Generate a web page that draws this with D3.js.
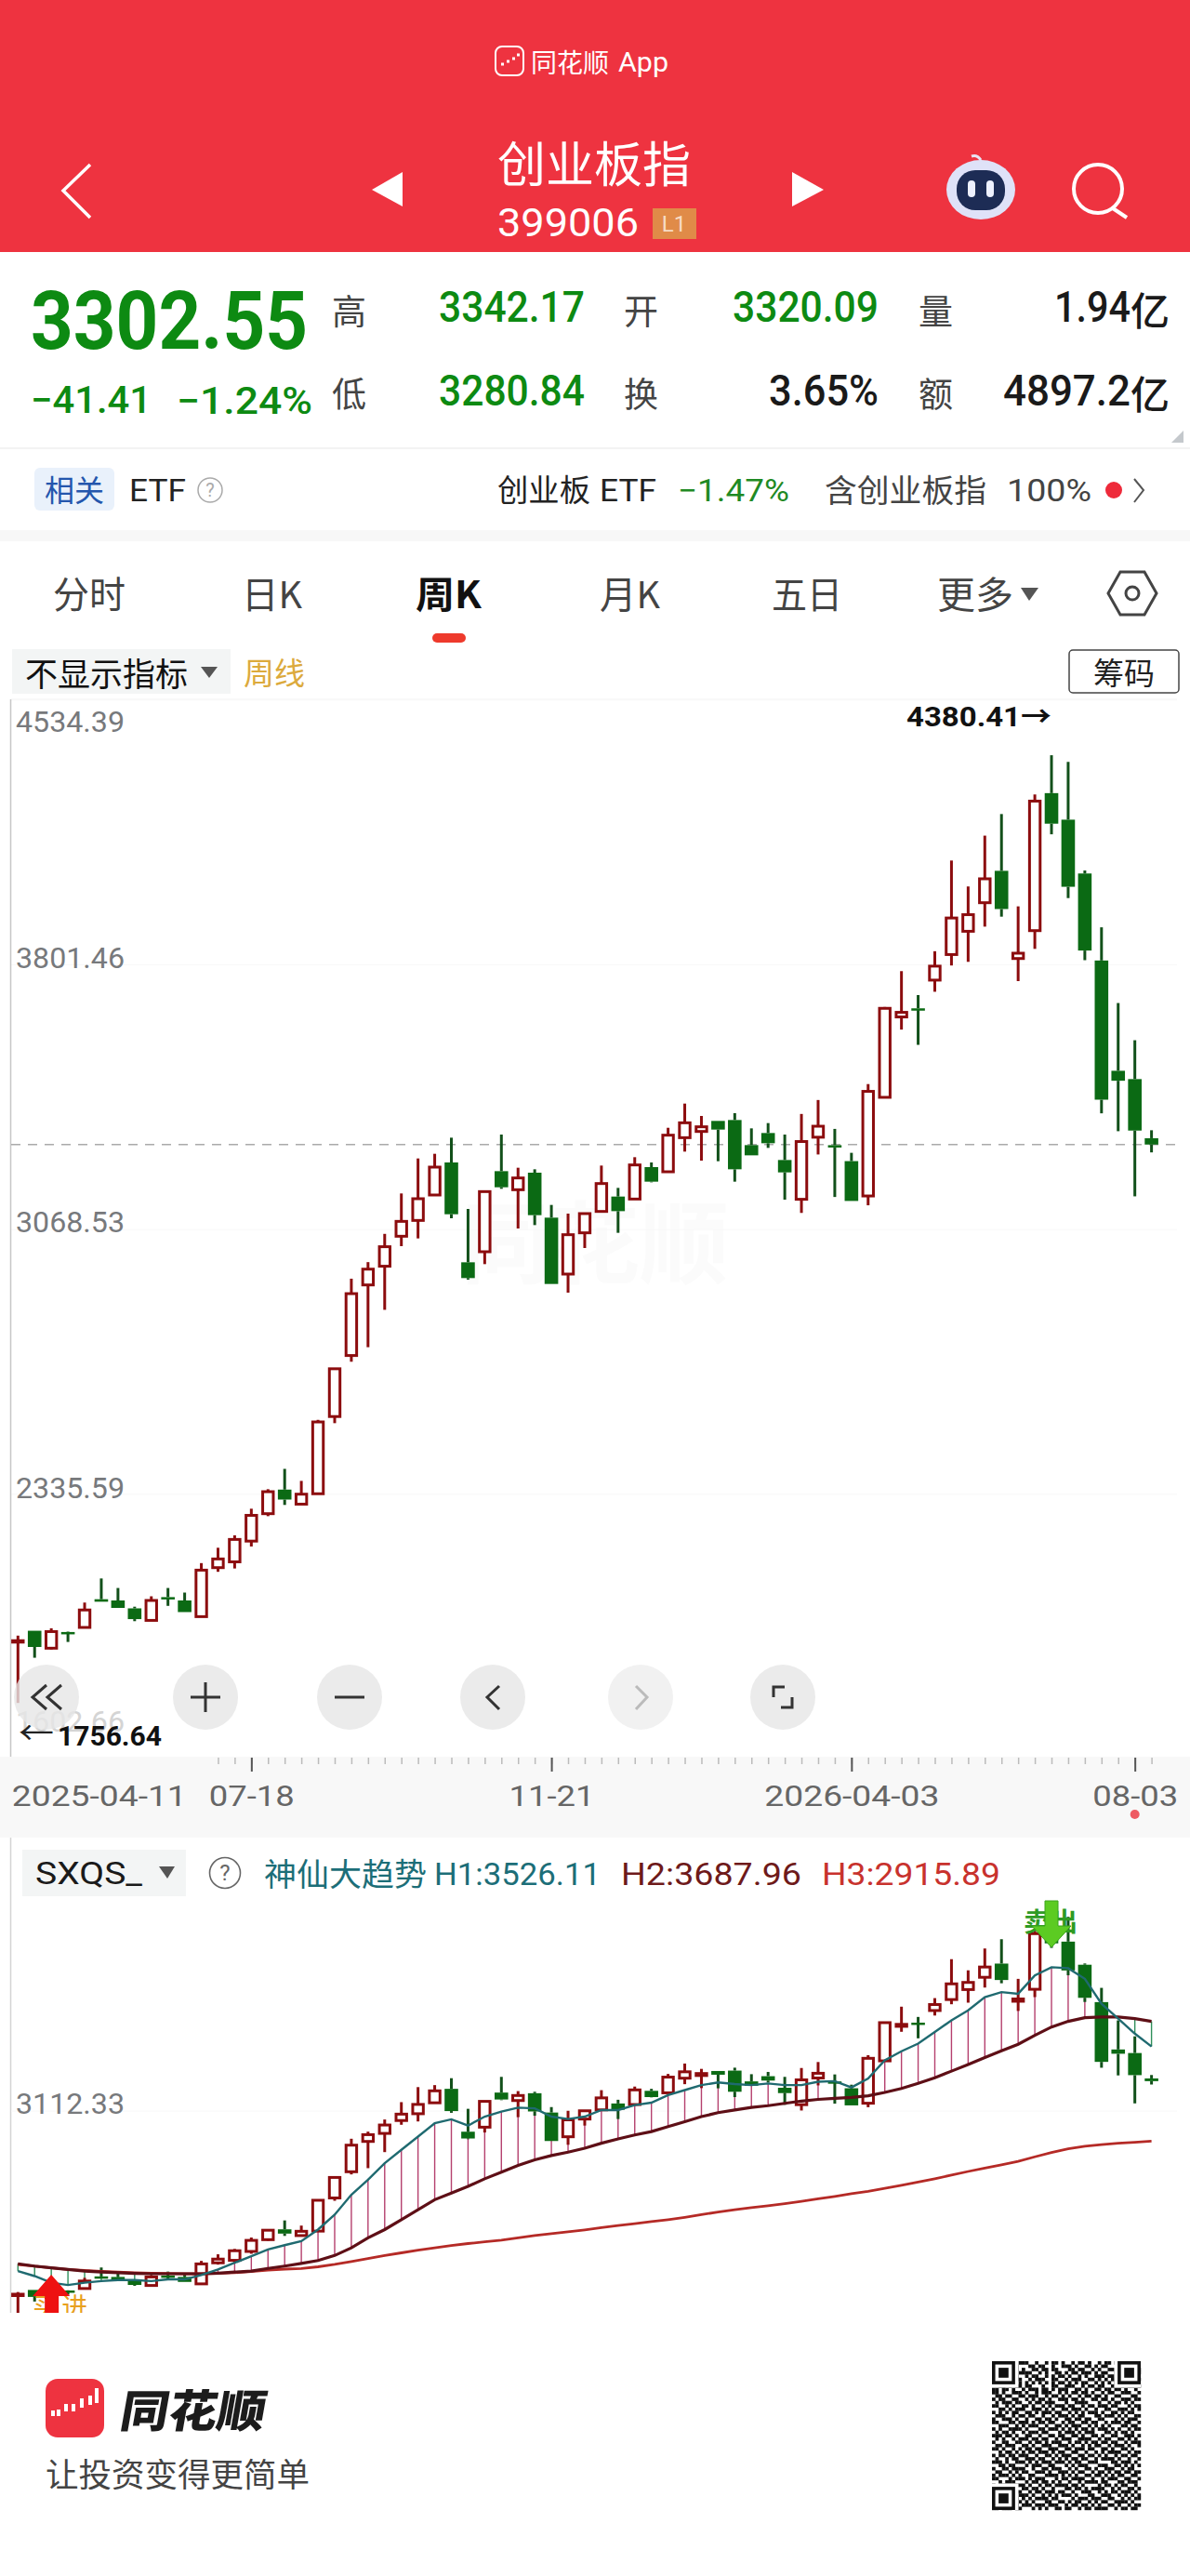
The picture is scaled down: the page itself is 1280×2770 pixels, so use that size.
<!DOCTYPE html>
<html>
<head>
<meta charset="utf-8">
<script src="https://cdnjs.cloudflare.com/ajax/libs/d3/7.8.5/d3.min.js"></script>
<style>
	html, body { margin: 0; padding: 0; background: #fff; }
	svg { display: block; }
	text { font-family: Roboto, "Noto Sans CJK SC", sans-serif; dominant-baseline: central; }
	.cn { font-family: "Noto Sans CJK SC", sans-serif; }
</style>
</head>
<body>
<svg id="page" width="1280" height="2770"></svg>
<script>
// weekly candles
var opens = [1925,1956.5,1908.2,1953,1965.7,2043.8,2040.4,2018.5,1985.2,2049.6,2040.4,1995.6,2131.2,2147.3,2204.7,2280.6,2347.3,2307,2335.8,2549.6,2718.5,2913.9,2965.7,3048.7,3092.5,3162.9,3253,2976.6,3005.8,3228.9,3177.5,3224.7,3100.2,2944,3058.2,3117.4,3158.6,3151.7,3240.1,3227.2,3321.6,3338.8,3368,3370.5,3301,3334.5,3259.8,3151,3322.9,3300.8,3256.7,3160.2,3433.3,3655.8,3679.7,3757.8,3828.6,3893,3972.1,4060.4,3817.6,3894.8,4275.5,4202,4053,3812.1,3506.8,3483.8,3320.09];
var highs = [1943,1956.5,1963.4,1954.2,2034.6,2101.3,2074.9,2023.1,2051.9,2074.9,2062.2,2143.8,2186.3,2220.8,2294.4,2348.4,2404.7,2371.4,2540.4,2681.8,2931.2,2977.1,3055.3,3167.2,3264.1,3277,3321.6,3124.2,3172.3,3330.2,3238.4,3234.1,3135.4,3111.4,3113.1,3244.4,3182.6,3267.6,3253,3349,3416,3381.7,3368,3389.4,3347.4,3362,3330.2,3387.3,3425.9,3345.9,3279.7,3470,3683.4,3782.7,3716.5,3837.8,4088.9,4017.1,4157.8,4217.6,3962,4271.8,4380.41,4362,4061.3,3904,3694.4,3591.4,3342.17];
var lows = [1756.64,1881.8,1904.8,1925.5,1965.7,2036.9,2019.7,1983,1985.2,2025.4,2008.2,1995.6,2119.7,2128.9,2189.8,2273.7,2304.8,2307,2335.8,2531.2,2701.3,2741.5,2845,3021.3,3042.7,3162.9,3098.5,2928.6,2971.5,3180,3070.2,3079.6,2916.6,2892.5,3016.1,3117.4,3058.2,3151.7,3198,3227.2,3283,3258,3256.4,3199.8,3272.7,3293.3,3150,3113.3,3275.1,3157.4,3146.4,3134.4,3433.3,3620.8,3578.6,3725.6,3798.3,3808.4,3905.9,3933.5,3755.1,3844.3,4161.5,3984.9,3813,3389,3339.5,3159.2,3280.84];
var closes = [1929,1911.6,1954.2,1948.5,2014,2036.9,2019.7,1988.7,2040.4,2045,2008.2,2124.3,2155.3,2209.3,2276,2341.5,2319.7,2334.6,2534.6,2681.8,2889.8,2957.6,3019.7,3089.9,3152.6,3240.1,3109.6,2932.9,3172.3,3184.3,3210.1,3107.1,2916.6,3053,3111.4,3194.6,3118.2,3246.1,3199.8,3328.5,3362.8,3351.7,3344,3234.1,3272.7,3306.2,3225.5,3310.9,3353.3,3294.4,3146.4,3449.8,3679.7,3668.6,3675.1,3796.5,3929.8,3939,4038.3,3954.6,3832.3,4253.4,4190.9,4016.2,3839.7,3426.8,3479.2,3341.3,3302.55];

// 神仙大趋势 lines
var h1Values = [2078,2045.8,2003,1988,2003,2013.7,2020.1,2020.1,2013.7,2024.4,2024.4,2052.2,2088.6,2131.4,2174.3,2217.1,2245,2270.7,2345.6,2442,2570.5,2666.8,2773.8,2859.5,2945.2,3030.9,3056.5,3015.9,3073.7,3105.8,3131.5,3127.2,3073.7,3058.6,3073.7,3116.4,3116.4,3148.6,3163.6,3212.8,3245,3277.1,3294.2,3283.5,3277.1,3287.8,3277.1,3277.1,3298.5,3302.8,3262,3319.9,3437.6,3495.4,3544.7,3619.6,3694.6,3758.8,3844.5,3876.6,3865.9,3983.6,4037.1,4030.8,3962.2,3801.6,3705.3,3608.9,3526.11];
var h2Values = [2125.1,2110.1,2099.4,2088.6,2078,2071.5,2067.2,2062.9,2060.8,2060.8,2060.8,2060.8,2065,2071.5,2078,2095.1,2110.1,2127.2,2146.5,2178.6,2227.9,2292.1,2345.6,2409.8,2474.1,2538.3,2581.2,2624,2673.2,2716.1,2758.9,2795.3,2823.1,2844.5,2870.2,2902.4,2930.2,2955.9,2977.3,3009.4,3041.5,3073.7,3099.3,3116.4,3133.6,3144.3,3159.3,3174.2,3185,3191.4,3197.8,3208.5,3229.9,3255.6,3287.8,3324.2,3367,3409.8,3454.8,3497.6,3540.4,3598.2,3651.7,3688,3711.7,3716,3716,3705.3,3687.96];
var h3Values = [2120.8,2110.1,2099.4,2088.6,2082.2,2075.8,2071.5,2067.2,2065,2062.9,2060.8,2060.8,2062.9,2067.2,2075.8,2084.4,2090.8,2095.1,2105.8,2120.8,2140,2159.3,2178.6,2195.7,2212.9,2227.9,2242.9,2255.7,2266.4,2277.1,2292.1,2307.1,2320,2330.7,2343.5,2358.5,2371.3,2384.2,2397,2409.8,2424.8,2442,2459.1,2474.1,2486.9,2499.8,2512.6,2527.6,2544.8,2559.8,2576.9,2591.9,2611.2,2630.4,2651.8,2673.2,2696.8,2720.3,2741.7,2763.2,2786,2814.6,2842.3,2866,2883,2893.8,2902.4,2908.8,2915.89];

// axes
var priceTicks = [4534.39,3801.46,3068.53,2335.59,1602.66];
var priceTickLabels = ["4534.39","3801.46","3068.53","2335.59","1602.66"];
var lastClose = 3302.55;
var subTicks = [3112.33];
var dateTickIndex = [0,14,32,50,67];
var dateTickLabels = ["2025-04-11","07-18","11-21","2026-04-03","08-03"];
var buyIndex = 2, sellIndex = 62;

// quote table
var tabs = ["分时","日K","周K","月K","五日","更多"];

// qr body (finder squares are drawn over it)
var qrRows = [
"101101001110010010110100101101001011010110100",
"010110110001101100100111010011010110001010110",
"110011010100110110110001101100101001101101001",
"011001101111001010011010110111010110010100111",
"101110010010110010101101001010011101101011010",
"010101111001011100110010111001101010110001101",
"101010101010101010101101010110010101011110010",
"001101011011000100110011100101101100100101101",
"110110100101110110101110011010011011011010010",
"110100111010010111001010110110100101100111001",
"011011001101110010110101001011011010011000110",
"101100110010101101001110110100110110100111011",
"010111011001011011100010011110001001011010100",
"110010100110100101011101100101101110110001011",
"001101011100111010100110111010010011001110101",
"101010110011010111011001010101110100110101100",
"011100101101100100101110101100011011101010011",
"100111010010011011010011011011001100010101110",
"110001101110101101100101100110110010111011001",
"001110010101110010011010111001010101000110110",
"101001111010001101110101010110101110101001011",
"010110100101110110001011101011100011010110100",
"111011010011001001101100110100110100110011101",
"010100101110110110010111001111001011001101010",
"100110011001011010111001011010110110110010111",
"011011100110100111001110100101011001011101001",
"110100101011011001110011011101100110100110100",
"001011010101101110101100110010010101111001011",
"101101101110010011010111001101101010010110110",
"010010110011101100101010110110010111101001001",
"111010011101010111011101011001110000110111010",
"001101100010111001100010101110001110011010101",
"100110111100100110111001010011010011100101100",
"011001010110011101001110101100101101011011011",
"101110101001100011110101010011011010101100110",
"110001011101011100010110111100100101110011001",
"001011100010110110101001001011110110001101110",
"101100011101001011011110110100001011010110010",
"010111100110110100100011011010111100101001101",
"110010011001011011101100100111001010110111010",
"011101101110100101010111010001100111001010101",
"100010110101011110110000101110111001100101011",
"111101001010100011001101011001010110011110100",
"001010110111011101110010110110101001101001011",
"110111011000101010011011001011011110010110110"
];

var svg = d3.select("#page");
var RED_C = "#8c0c0e", GREEN_C = "#0b6a14", WICK_G = "#12501a", GREEN_T = "#0d8a12";

// text helper, len squeezes the string to the width it has in the picture
function txt(g, s, x, y, size, fill, o) {
	o = o || {};
	var t = g.append("text").attr("x", x).attr("y", y).attr("font-size", size).attr("fill", fill).text(s);
	if (o.anchor) t.attr("text-anchor", o.anchor);
	if (o.weight) t.attr("font-weight", o.weight);
	if (o.cn) t.attr("class", "cn");
	if (o.len) t.attr("textLength", o.len).attr("lengthAdjust", "spacingAndGlyphs");
	if (o.opacity) t.attr("opacity", o.opacity);
	return t;
}

// ---- header
var head = svg.append("g");
head.append("rect").attr("width", 1280).attr("height", 271).attr("fill", "#ee3340");
head.append("rect").attr("x", 533).attr("y", 50).attr("width", 30).attr("height", 31).attr("rx", 7)
	.attr("fill", "none").attr("stroke", "#fff").attr("stroke-width", 2);
head.append("path").attr("d", "M539 69h3M545 66h3M551 63h3M556 59h3").attr("stroke", "#fff").attr("stroke-width", 3);
txt(head, "同花顺", 571, 66, 28, "#fff", {cn: 1, len: 84});
txt(head, "App", 665, 67, 29, "#fff", {len: 54});
txt(head, "创业板指", 535, 173, 52, "#fff", {cn: 1, len: 208});
txt(head, "399006", 535, 239, 42, "#fff", {len: 152});
head.append("rect").attr("x", 702).attr("y", 224).attr("width", 47).attr("height", 33).attr("fill", "#e08b48");
txt(head, "L1", 725, 241, 24, "#f7dcc4", {anchor: "middle"});
head.append("path").attr("d", "M97 177L68 205L97 234").attr("fill", "none").attr("stroke", "#fff").attr("stroke-width", 3.5);
head.append("path").attr("d", "M433 185L400 204L433 222Z").attr("fill", "#fff");
head.append("path").attr("d", "M852 185L886 204L852 222Z").attr("fill", "#fff");
// robot
head.append("path").attr("d", "M1055 172q-4 -6 -10 -4").attr("fill", "none").attr("stroke", "#e8e4f4").attr("stroke-width", 3);
head.append("ellipse").attr("cx", 1055).attr("cy", 204).attr("rx", 37).attr("ry", 32).attr("fill", "#dfe2f8");
head.append("rect").attr("x", 1029).attr("y", 183).attr("width", 52).attr("height", 43).attr("rx", 20).attr("fill", "#1d2c55");
head.append("rect").attr("x", 1041).attr("y", 194).attr("width", 8).attr("height", 18).attr("rx", 4).attr("fill", "#eef1ff");
head.append("rect").attr("x", 1061).attr("y", 194).attr("width", 8).attr("height", 18).attr("rx", 4).attr("fill", "#eef1ff");
// search
head.append("circle").attr("cx", 1181).attr("cy", 203).attr("r", 26).attr("fill", "none").attr("stroke", "#fff").attr("stroke-width", 4);
head.append("path").attr("d", "M1197 224L1212 234").attr("stroke", "#fff").attr("stroke-width", 4);

// ---- quote block
var q = svg.append("g");
txt(q, "3302.55", 33, 344, 88, GREEN_T, {weight: 700, len: 298});
txt(q, "−41.41", 33, 430, 40, GREEN_T, {weight: 500, len: 130});
txt(q, "−1.24%", 190, 431, 40, GREEN_T, {weight: 500, len: 146});
[["高",357,333],["低",357,422],["开",671,333],["换",671,422],["量",988,333],["额",988,422]].forEach(function(d) {
	txt(q, d[0], d[1], d[2], 37, "#444", {cn: 1});
});
txt(q, "3342.17", 472, 330, 46, GREEN_T, {weight: 500, len: 157});
txt(q, "3280.84", 472, 420, 46, GREEN_T, {weight: 500, len: 157});
txt(q, "3320.09", 788, 330, 46, GREEN_T, {weight: 500, len: 157});
txt(q, "3.65%", 945, 420, 46, "#1a1a1a", {weight: 500, anchor: "end", len: 118});
txt(q, "1.94", 1134, 330, 46, "#1a1a1a", {weight: 500, len: 82});
txt(q, "亿", 1216, 331, 42, "#1a1a1a", {cn: 1, weight: 500});
txt(q, "4897.2", 1079, 420, 46, "#1a1a1a", {weight: 500, len: 137});
txt(q, "亿", 1216, 421, 42, "#1a1a1a", {cn: 1, weight: 500});
q.append("path").attr("d", "M1273 463V476H1260Z").attr("fill", "#c4c8cc");
q.append("rect").attr("y", 481).attr("width", 1280).attr("height", 2).attr("fill", "#f3f3f3");

// ETF row
q.append("rect").attr("x", 37).attr("y", 503).attr("width", 86).attr("height", 46).attr("rx", 6).attr("fill", "#e9f1fb");
txt(q, "相关", 48, 525, 32, "#2456ad", {cn: 1});
txt(q, "ETF", 139, 527, 33, "#222", {len: 61});
q.append("circle").attr("cx", 226).attr("cy", 527).attr("r", 13).attr("fill", "none").attr("stroke", "#aaa").attr("stroke-width", 1.5);
txt(q, "?", 226, 527, 20, "#aaa", {anchor: "middle"});
txt(q, "创业板", 535, 525, 33, "#222", {cn: 1, len: 100});
txt(q, "ETF", 645, 527, 33, "#222", {len: 61});
txt(q, "−1.47%", 729, 527, 33, "#1f8a24", {len: 120});
txt(q, "含创业板指", 887, 525, 34, "#444", {cn: 1, len: 174});
txt(q, "100%", 1083, 527, 33, "#444", {len: 91});
q.append("circle").attr("cx", 1198).attr("cy", 527).attr("r", 9).attr("fill", "#ee2a3a");
q.append("path").attr("d", "M1220 515L1230 527L1220 540").attr("fill", "none").attr("stroke", "#555").attr("stroke-width", 2);
q.append("rect").attr("y", 570).attr("width", 1280).attr("height", 12).attr("fill", "#f7f7f7");

// ---- tabs
var tabX = [57,260,447,645,830,1008], tabLen = [78,65,71,65,76,82];
tabs.forEach(function(s, i) {
	txt(q, s, tabX[i], 637, 40, i == 2 ? "#111" : "#444", {cn: 1, weight: i == 2 ? 700 : 400, len: tabLen[i]});
});
q.append("path").attr("d", "M1098 632H1117L1107 646Z").attr("fill", "#555");
q.append("path").attr("d", "M1205 615H1231L1244 638L1231 661H1205L1192 638Z").attr("fill", "none").attr("stroke", "#444").attr("stroke-width", 3);
q.append("circle").attr("cx", 1218).attr("cy", 638).attr("r", 7).attr("fill", "none").attr("stroke", "#444").attr("stroke-width", 3);
q.append("rect").attr("x", 465).attr("y", 681).attr("width", 36).attr("height", 10).attr("rx", 5).attr("fill", "#ee3a2c");

// indicator row
q.append("rect").attr("x", 13).attr("y", 698).attr("width", 235).attr("height", 48).attr("fill", "#f3f5f5");
txt(q, "不显示指标", 27, 722, 35, "#111", {cn: 1, len: 175});
q.append("path").attr("d", "M216 717H234L225 729Z").attr("fill", "#555");
txt(q, "周线", 262, 722, 33, "#dcaa3c", {cn: 1});
q.append("rect").attr("x", 1150).attr("y", 699).attr("width", 118).attr("height", 46).attr("rx", 4).attr("fill", "#fff").attr("stroke", "#444").attr("stroke-width", 1.5);
txt(q, "筹码", 1209, 722, 33, "#222", {cn: 1, anchor: "middle"});

// ---- scales
var xScale = d3.scaleLinear().domain([0, 68]).range([19.3, 1238.6]);
var yMain = d3.scaleLinear().domain([1602.66, 4534.39]).range([1891, 752.3]);
var ySub = d3.scaleLinear().domain([1803, 4872.6]).range([2488, 1976]);
var idx = d3.range(opens.length);

function drawCandles(g, y) {
	idx.forEach(function(i) {
		var up = closes[i] >= opens[i];
		var x = xScale(i);
		var top = y(Math.max(opens[i], closes[i])), bot = y(Math.min(opens[i], closes[i]));
		g.append("line").attr("x1", x).attr("x2", x).attr("y1", y(highs[i])).attr("y2", top)
			.attr("stroke", up ? RED_C : WICK_G).attr("stroke-width", 3);
		g.append("line").attr("x1", x).attr("x2", x).attr("y1", bot).attr("y2", y(lows[i]))
			.attr("stroke", up ? RED_C : WICK_G).attr("stroke-width", 3);
		if (up) {
			g.append("rect").attr("x", x - 5.7).attr("y", top).attr("width", 11.4).attr("height", Math.max(bot - top, 1.5))
				.attr("fill", "#fff").attr("stroke", RED_C).attr("stroke-width", 3);
		} else {
			g.append("rect").attr("x", x - 7.3).attr("y", top).attr("width", 14.6).attr("height", Math.max(bot - top, 2.5))
				.attr("fill", GREEN_C);
		}
	});
}

// ---- main panel
var main = svg.append("g");
main.append("line").attr("x1", 12).attr("x2", 1266).attr("y1", 752).attr("y2", 752).attr("stroke", "#f2f2f2");
txt(main, "同花顺", 640, 1330, 96, "#fbfbfb", {cn: 1, anchor: "middle", weight: 700});

// grid + price labels through an axis
var priceAxis = d3.axisRight(yMain).tickValues(priceTicks).tickSize(1254)
	.tickFormat(function(d, i) { return priceTickLabels[i]; });
var priceG = main.append("g").attr("transform", "translate(12,0)").call(priceAxis);
priceG.select(".domain").remove();
priceG.selectAll(".tick line").attr("stroke", "#f8f8f8").attr("stroke-width", 1);
var labelShift = [23, -7, -8, -7, -41];
priceG.selectAll(".tick text")
	.attr("x", 5).attr("dy", function(d, i) { return labelShift[i]; })
	.attr("text-anchor", "start").attr("font-size", 32)
	.attr("font-family", "Roboto, sans-serif").attr("textLength", 117).attr("lengthAdjust", "spacingAndGlyphs")
	.attr("fill", function(d, i) { return i == 4 ? "#d4d4d4" : "#77797c"; });

main.append("line").attr("x1", 11.5).attr("x2", 11.5).attr("y1", 752).attr("y2", 1889).attr("stroke", "#c6c6c6").attr("stroke-width", 1.5);
main.append("line").attr("x1", 12).attr("x2", 1268).attr("y1", yMain(lastClose)).attr("y2", yMain(lastClose))
	.attr("stroke", "#aaa").attr("stroke-width", 1.6).attr("stroke-dasharray", "10 8");
drawCandles(main.append("g"), yMain);

txt(main, "4380.41→", 975, 770, 30, "#111", {weight: 700, len: 156});

// zoom buttons
var btnX = [50,221,376,530,689,842];
btnX.forEach(function(x, i) {
	main.append("circle").attr("cx", x).attr("cy", 1825).attr("r", 35).attr("fill", "#e6e6e6").attr("opacity", i == 4 ? 0.55 : 0.8);
});
var ic = main.append("g").attr("fill", "none").attr("stroke", "#333").attr("stroke-width", 3);
ic.append("path").attr("d", "M50 1812L35 1825L50 1838M66 1812L51 1825L66 1838");
ic.append("path").attr("d", "M205 1825H237M221 1809V1841");
ic.append("path").attr("d", "M360 1825H392");
ic.append("path").attr("d", "M537 1813L524 1825L537 1838");
ic.append("path").attr("d", "M684 1813L696 1825L684 1838").attr("stroke", "#bbb");
ic.append("path").attr("d", "M832 1825V1814H844M852 1825V1836H840");
txt(main, "←", 20, 1864, 34, "#222", {len: 38});
txt(main, "1756.64", 62, 1866, 30, "#111", {weight: 700, len: 112});

// ---- date axis
svg.append("rect").attr("y", 1889).attr("width", 1280).attr("height", 87).attr("fill", "#f8f8f8");
var minorAxis = d3.axisBottom(xScale).tickValues(d3.range(12, 69)).tickSize(7).tickFormat("");
var minorG = svg.append("g").attr("transform", "translate(0,1890)").call(minorAxis);
minorG.select(".domain").remove();
minorG.selectAll(".tick line").attr("stroke", "#bbb").attr("stroke-width", 1.5);
var dateAxis = d3.axisBottom(xScale).tickValues(dateTickIndex).tickSize(15)
	.tickFormat(function(d, i) { return dateTickLabels[i]; });
var dateG = svg.append("g").attr("transform", "translate(0,1890)").call(dateAxis);
dateG.select(".domain").remove();
dateG.selectAll(".tick line").attr("stroke", "#555").attr("stroke-width", 2)
	.attr("opacity", function(d) { return d == 0 ? 0 : 1; });
var dateLen = [188,92,92,188,92];
dateG.selectAll(".tick text")
	.attr("font-size", 32).attr("fill", "#666").attr("font-family", "Roboto, sans-serif")
	.attr("y", 41).attr("dy", 0)
	.attr("textLength", function(d, i) { return dateLen[i]; }).attr("lengthAdjust", "spacingAndGlyphs")
	.attr("text-anchor", function(d, i) { return i == 0 ? "start" : "middle"; })
	.attr("x", function(d, i) { return i == 0 ? -7 : 0; });
svg.append("circle").attr("cx", xScale(67)).attr("cy", 1951).attr("r", 5).attr("fill", "#ee5a62");

// ---- sub panel
var sub = svg.append("g");
sub.append("line").attr("x1", 11.5).attr("x2", 11.5).attr("y1", 1976).attr("y2", 2487).attr("stroke", "#d4d4d4").attr("stroke-width", 1.5);
sub.append("rect").attr("x", 24).attr("y", 1989).attr("width", 176).attr("height", 50).attr("fill", "#f3f5f5");
txt(sub, "SXQS_", 38, 2014, 34, "#1a1a1a", {len: 115});
sub.append("path").attr("d", "M171 2007H188L180 2020Z").attr("fill", "#555");
sub.append("circle").attr("cx", 242).attr("cy", 2014).attr("r", 16.5).attr("fill", "none").attr("stroke", "#666").attr("stroke-width", 1.6);
txt(sub, "?", 242, 2014, 24, "#666", {anchor: "middle"});
txt(sub, "神仙大趋势", 284, 2013, 34, "#1c6e78", {cn: 1, len: 175});
txt(sub, "H1:3526.11", 467, 2015, 33, "#1c6e78", {len: 179});
txt(sub, "H2:3687.96", 668, 2015, 33, "#6e1a1a", {len: 194});
txt(sub, "H3:2915.89", 884, 2015, 33, "#c8322d", {len: 192});

var subAxis = d3.axisRight(ySub).tickValues(subTicks).tickSize(1254).tickFormat(d3.format(".2f"));
var subG = sub.append("g").attr("transform", "translate(12,0)").call(subAxis);
subG.select(".domain").remove();
subG.selectAll(".tick line").attr("stroke", "#f8f8f8");
subG.selectAll(".tick text").attr("x", 5).attr("dy", -8).attr("font-size", 32).attr("fill", "#77797c")
	.attr("font-family", "Roboto, sans-serif").attr("textLength", 117).attr("lengthAdjust", "spacingAndGlyphs");

svg.append("clipPath").attr("id", "subClip").append("rect").attr("x", 0).attr("y", 1976).attr("width", 1280).attr("height", 511);
var plot = sub.append("g").attr("clip-path", "url(#subClip)");

// hatching between H1 and H2
idx.forEach(function(i) {
	plot.append("line").attr("x1", xScale(i)).attr("x2", xScale(i)).attr("y1", ySub(h1Values[i])).attr("y2", ySub(h2Values[i]))
		.attr("stroke", h1Values[i] >= h2Values[i] ? "#b5406e" : "#2f8f5a").attr("stroke-width", 1.4);
});
drawCandles(plot.append("g"), ySub);

function seriesLine(vals, color, width) {
	var line = d3.line().x(function(d, i) { return xScale(i); }).y(function(d) { return ySub(d); });
	plot.append("path").datum(vals).attr("d", line).attr("fill", "none").attr("stroke", color).attr("stroke-width", width);
}
seriesLine(h3Values, "#b52a26", 2.8);
seriesLine(h2Values, "#5e0f16", 3.2);
seriesLine(h1Values, "#1f6a70", 2.4);

// buy / sell signals
var bx = xScale(buyIndex);
txt(plot, "买", bx - 6, 2479, 28, "#e8a020", {cn: 1, anchor: "middle"});
txt(plot, "进", bx + 25, 2479, 28, "#e8a020", {cn: 1, anchor: "middle"});
plot.append("path").attr("d", "M" + bx + " 2446l20 23h-12v22h-15v-22h-13Z").attr("fill", "#ee1111");
var sx = xScale(sellIndex);
txt(plot, "卖", sx - 16, 2065, 28, "#2f9a24", {cn: 1, anchor: "middle", weight: 700});
txt(plot, "出", sx + 14, 2065, 28, "#2f9a24", {cn: 1, anchor: "middle", weight: 700});
plot.append("path").attr("d", "M" + (sx - 7) + " 2044h14v27h14l-21 23l-21 -23h14Z").attr("fill", "#5ccb22").attr("stroke", "#3aa51c").attr("stroke-width", 1);

// ---- footer
var foot = svg.append("g");
foot.append("rect").attr("x", 49).attr("y", 2558).attr("width", 63).attr("height", 63).attr("rx", 13).attr("fill", "#ee3340");
foot.append("path").attr("d", "M57 2598v-6M63 2598v-7M71 2593v-8M79 2593v-8M88 2589v-10M97 2586v-10M104 2584v-16").attr("stroke", "#fff").attr("stroke-width", 4);
txt(foot, "同花顺", 0, 0, 48, "#1c1c1c", {cn: 1, weight: 900, len: 156}).attr("transform", "translate(131,2589) skewX(-10)");
txt(foot, "让投资变得更简单", 49, 2658, 35, "#444", {cn: 1, len: 284});

// qr code
var qrX = 1067, qrY = 2539, qrCell = 160 / 45;
qrRows.forEach(function(row, r) {
	row.split("").forEach(function(c, k) {
		if (c == "1") foot.append("rect").attr("x", qrX + k * qrCell).attr("y", qrY + r * qrCell).attr("width", qrCell + 0.2).attr("height", qrCell + 0.2).attr("fill", "#111");
	});
});
[[0,0],[38,0],[0,38]].forEach(function(p) {
	// quiet band round each finder square
	foot.append("rect").attr("x", qrX + (p[0] ? p[0] - 1 : 0) * qrCell).attr("y", qrY + (p[1] ? p[1] - 1 : 0) * qrCell)
		.attr("width", qrCell * 8).attr("height", qrCell * 8).attr("fill", "#fff");
	foot.append("rect").attr("x", qrX + p[0] * qrCell + qrCell / 2).attr("y", qrY + p[1] * qrCell + qrCell / 2)
		.attr("width", qrCell * 6).attr("height", qrCell * 6).attr("fill", "#fff").attr("stroke", "#111").attr("stroke-width", qrCell);
	foot.append("rect").attr("x", qrX + (p[0] + 2) * qrCell).attr("y", qrY + (p[1] + 2) * qrCell)
		.attr("width", qrCell * 3).attr("height", qrCell * 3).attr("fill", "#111");
});
</script>
</body>
</html>
